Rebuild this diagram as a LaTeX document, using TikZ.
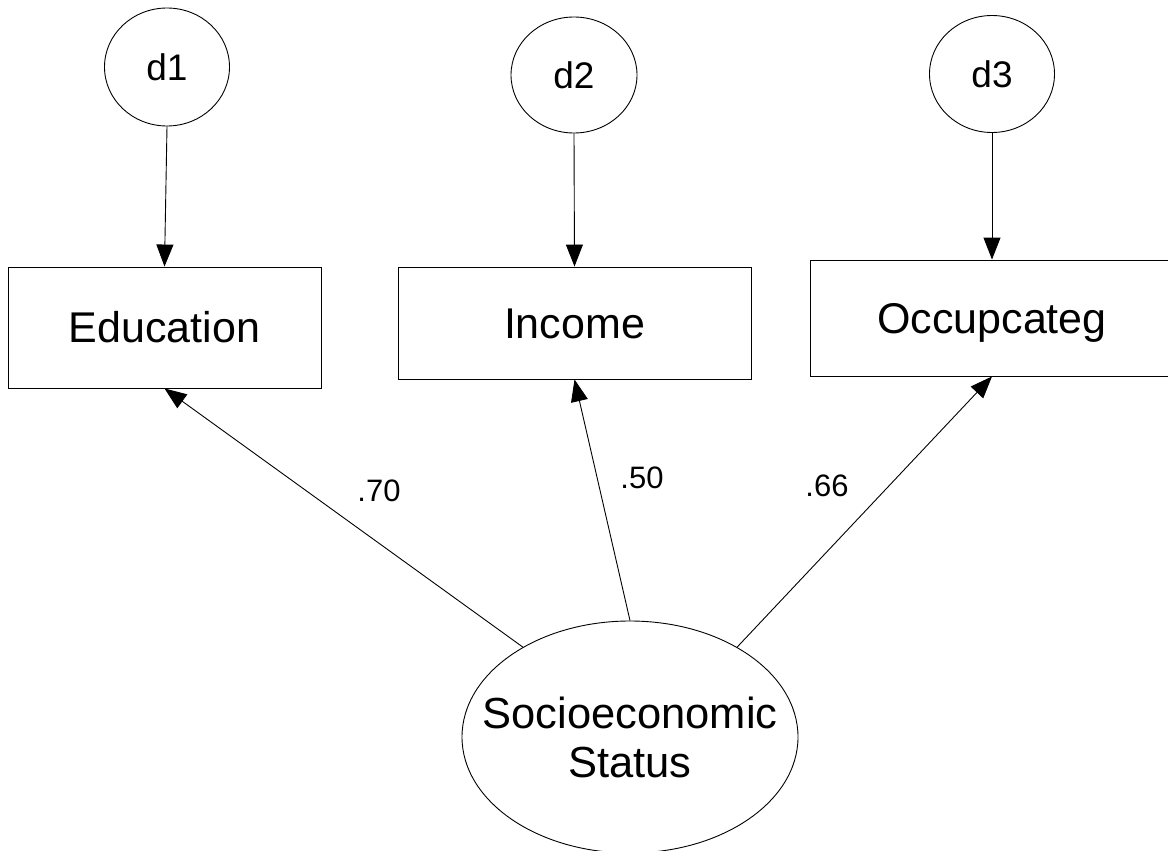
\documentclass[tikz,border=0pt]{standalone}
\usepackage{fontspec}
\setmainfont{Liberation Sans}
\usetikzlibrary{shapes.geometric,arrows.meta}
\tikzset{
  conn/.style={line width=0.9pt,-{Triangle[length=22pt,width=17pt]}},
  errc/.style={ellipse,draw,line width=0.9pt,inner sep=0pt,font=\fontsize{37}{44}\selectfont},
  obsbox/.style={rectangle,draw,line width=0.9pt,inner sep=0pt,text height=30.5pt,text depth=0pt,font=\fontsize{43}{50}\selectfont},
  lat/.style={ellipse,draw,line width=0.9pt,inner sep=0pt},
  lattext/.style={anchor=base,inner sep=0pt,font=\fontsize{43.5}{50}\selectfont},
  coef/.style={inner sep=0pt,text height=22pt,text depth=0pt,font=\fontsize{31}{36}\selectfont}
}
\begin{document}
\begin{tikzpicture}[x=1pt,y=-1pt]
\useasboundingbox (0,0) rectangle (1168,851);
% error terms
\node[errc,minimum width=125pt,minimum height=118pt] (d1) at (167,67) {d1};
\node[errc,minimum width=126pt,minimum height=116pt] (d2) at (574,75) {d2};
\node[errc,minimum width=125pt,minimum height=117pt] (d3) at (992,74) {d3};
% observed variables
\node[obsbox,minimum width=313pt,minimum height=121pt] (edu) at (164.5,327.5) {Education};
\node[obsbox,minimum width=353pt,minimum height=112pt] (inc) at (574.5,323) {Income};
\node[obsbox,minimum width=364pt,minimum height=116pt] (occ) at (992,318) {Occupcateg};
% latent variable
\node[lat,minimum width=336pt,minimum height=232pt] (ses) at (630,737) {};
\node[lattext] (sestop) at (630,728.5) {Socioeconomic};
\node[lattext] (sesbot) at (630,777.5) {Status};
% connectors
\draw[conn] (d1.south) -- (edu.north);
\draw[conn] (d2.south) -- (inc.north);
\draw[conn] (d3.south) -- (occ.north);
\draw[conn] (ses.140) -- (edu.south);
\draw[conn] (ses.north) -- (inc.south);
\draw[conn] (ses.40) -- (occ.south);
% coefficients
\node[coef] (c1) at (379,490) {.70};
\node[coef] (c2) at (642,477) {.50};
\node[coef] (c3) at (827,485) {.66};
\end{tikzpicture}
\end{document}
